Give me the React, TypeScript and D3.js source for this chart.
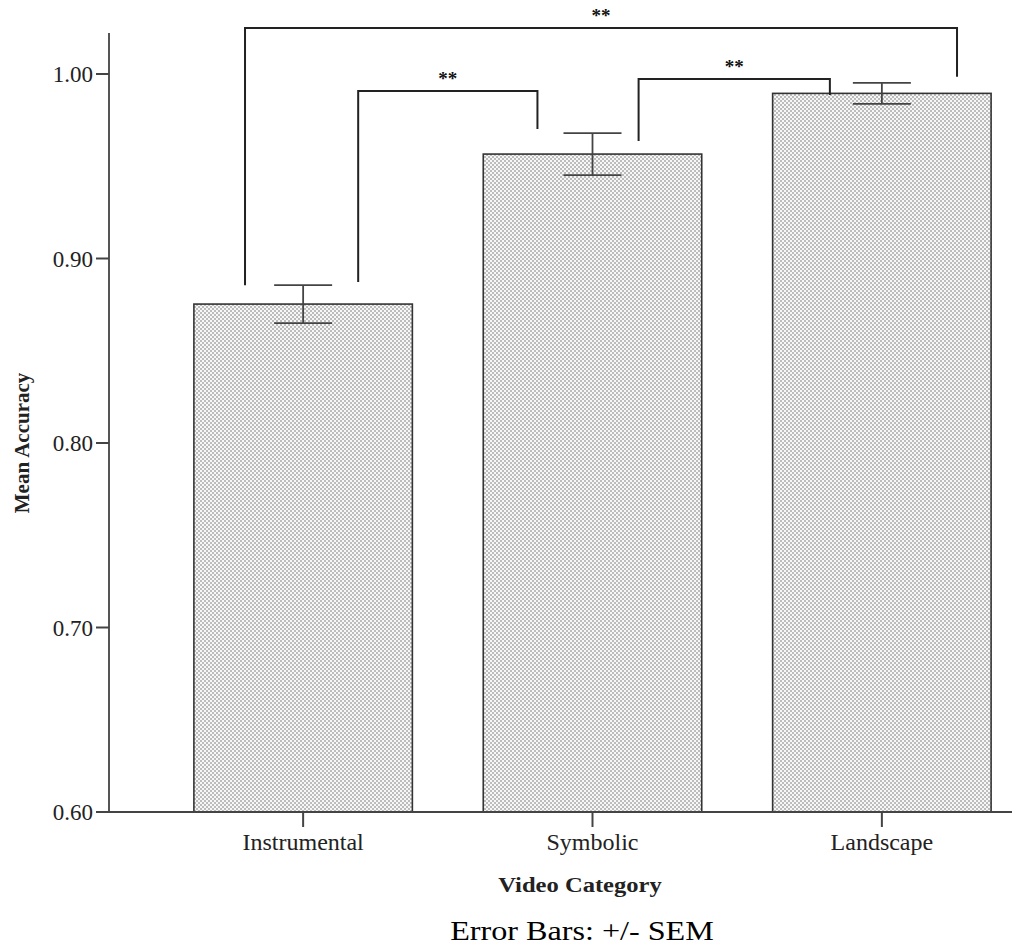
import { useRef, useEffect } from 'react'
import * as d3 from 'd3'

const categories = ['Instrumental', 'Symbolic', 'Landscape']
const means = [0.8753, 0.9566, 0.9895]
const sems = [0.0103, 0.0114, 0.0057]
const yTicks = [0.6, 0.7, 0.8, 0.9, 1.0]

// significance brackets: [left bar, right bar], star label
const bracketPairs = [[0, 2], [0, 1], [1, 2]]
const bracketLabels = ['**', '**', '**']
// bracket top and leg ends, in accuracy units
const bracketTops = [1.0249, 0.9908, 0.9973]
const bracketLeftEnds = [0.8855, 0.8872, 0.9637]
const bracketRightEnds = [0.9985, 0.9702, 0.9886]
// leg offset from bar centre, as a fraction of the bar width
const bracketLeftOffsets = [-0.266, 0.252, 0.211]
const bracketRightOffsets = [0.344, -0.252, -0.238]

const SERIF = "'Liberation Serif','Times New Roman',serif"

export default function App() {
  const svgRef = useRef<SVGSVGElement>(null)

  useEffect(() => {
    const svg = svgRef.current
    if (!svg) return
    const W = 1025
    const H = 945

    const sel = d3.select(svg)
    sel.selectAll('*').remove()
    sel.attr('width', W).attr('height', H)

    const defs = sel.append('defs')
    const pat = defs
      .append('pattern')
      .attr('id', 'stipple')
      .attr('width', 4)
      .attr('height', 4)
      .attr('patternUnits', 'userSpaceOnUse')
    pat.append('rect').attr('width', 4).attr('height', 4).attr('fill', '#f7f7f7')
    pat.append('rect').attr('x', 0).attr('y', 0).attr('width', 2).attr('height', 2).attr('fill', '#bcbcbc')
    pat.append('rect').attr('x', 2).attr('y', 2).attr('width', 2).attr('height', 2).attr('fill', '#bcbcbc')

    const x = d3.scaleBand().domain(categories).range([123, 1062]).padding(0.245)
    const y = d3.scaleLinear().domain([0.6, 1.0]).range([812, 74])
    const bw = x.bandwidth()
    const cx = (i: number) => (x(categories[i]) as number) + bw / 2

    // bars
    categories.forEach((c, i) => {
      sel.append('rect')
        .attr('x', x(c) as number)
        .attr('y', y(means[i]))
        .attr('width', bw)
        .attr('height', y(0.6) - y(means[i]))
        .attr('fill', 'url(#stipple)')
        .attr('stroke', '#333')
        .attr('stroke-width', 1.6)
    })

    // error bars
    const capW = 58
    categories.forEach((c, i) => {
      const hi = y(means[i] + sems[i])
      const lo = y(means[i] - sems[i])
      const g = sel.append('g').attr('stroke', '#444').attr('stroke-width', 1.8)
      g.append('line').attr('x1', cx(i)).attr('x2', cx(i)).attr('y1', hi).attr('y2', lo)
      g.append('line').attr('x1', cx(i) - capW / 2).attr('x2', cx(i) + capW / 2).attr('y1', hi).attr('y2', hi)
      g.append('line').attr('x1', cx(i) - capW / 2).attr('x2', cx(i) + capW / 2).attr('y1', lo).attr('y2', lo)
    })

    // axes
    const axisX0 = 109
    sel.append('line')
      .attr('x1', axisX0).attr('x2', axisX0)
      .attr('y1', y(0.6)).attr('y2', y(1.0222))
      .attr('stroke', '#555').attr('stroke-width', 2)
    sel.append('line')
      .attr('x1', axisX0).attr('x2', 1012)
      .attr('y1', y(0.6)).attr('y2', y(0.6))
      .attr('stroke', '#444').attr('stroke-width', 2)

    yTicks.forEach((t) => {
      sel.append('line')
        .attr('x1', axisX0 - 13).attr('x2', axisX0)
        .attr('y1', y(t)).attr('y2', y(t))
        .attr('stroke', '#444').attr('stroke-width', 2)
      sel.append('text')
        .attr('x', 93)
        .attr('y', y(t))
        .attr('dy', '0.35em')
        .attr('text-anchor', 'end')
        .attr('font-family', SERIF)
        .attr('font-size', 23)
        .attr('fill', '#222')
        .text(d3.format('.2f')(t))
    })

    categories.forEach((c, i) => {
      sel.append('line')
        .attr('x1', cx(i)).attr('x2', cx(i))
        .attr('y1', y(0.6)).attr('y2', y(0.6) + 15)
        .attr('stroke', '#444').attr('stroke-width', 2)
      sel.append('text')
        .attr('x', cx(i))
        .attr('y', 850)
        .attr('text-anchor', 'middle')
        .attr('font-family', SERIF)
        .attr('font-size', 24)
        .attr('fill', '#222')
        .text(c)
    })

    // axis titles (slightly stretched wide, as in the source)
    sel.append('text')
      .attr('transform', 'translate(580,892) scale(1.17,1)')
      .attr('text-anchor', 'middle')
      .attr('font-family', SERIF)
      .attr('font-weight', 'bold')
      .attr('font-size', 21)
      .attr('fill', '#222')
      .text('Video Category')

    sel.append('text')
      .attr('transform', `translate(29,${y(0.8)}) rotate(-90)`)
      .attr('text-anchor', 'middle')
      .attr('font-family', SERIF)
      .attr('font-weight', 'bold')
      .attr('font-size', 21)
      .attr('fill', '#222')
      .text('Mean Accuracy')

    sel.append('text')
      .attr('transform', 'translate(582,940) scale(1.17,1)')
      .attr('text-anchor', 'middle')
      .attr('font-family', SERIF)
      .attr('font-size', 27.5)
      .attr('fill', '#000')
      .text('Error Bars: +/- SEM')

    // significance brackets
    bracketPairs.forEach(([a, b], k) => {
      const xl = cx(a) + bracketLeftOffsets[k] * bw
      const xr = cx(b) + bracketRightOffsets[k] * bw
      const top = y(bracketTops[k])
      sel.append('path')
        .attr('d', `M${xl},${y(bracketLeftEnds[k])}V${top}H${xr}V${y(bracketRightEnds[k])}`)
        .attr('fill', 'none')
        .attr('stroke', '#222')
        .attr('stroke-width', 2)
      sel.append('text')
        .attr('x', (xl + xr) / 2)
        .attr('y', top - 6)
        .attr('text-anchor', 'middle')
        .attr('font-family', SERIF)
        .attr('font-weight', 'bold')
        .attr('font-size', 19)
        .attr('fill', '#111')
        .text(bracketLabels[k])
    })
  }, [])

  return <svg ref={svgRef} style={{ position: 'absolute', left: 0, top: 0, background: '#fff' }} />
}
